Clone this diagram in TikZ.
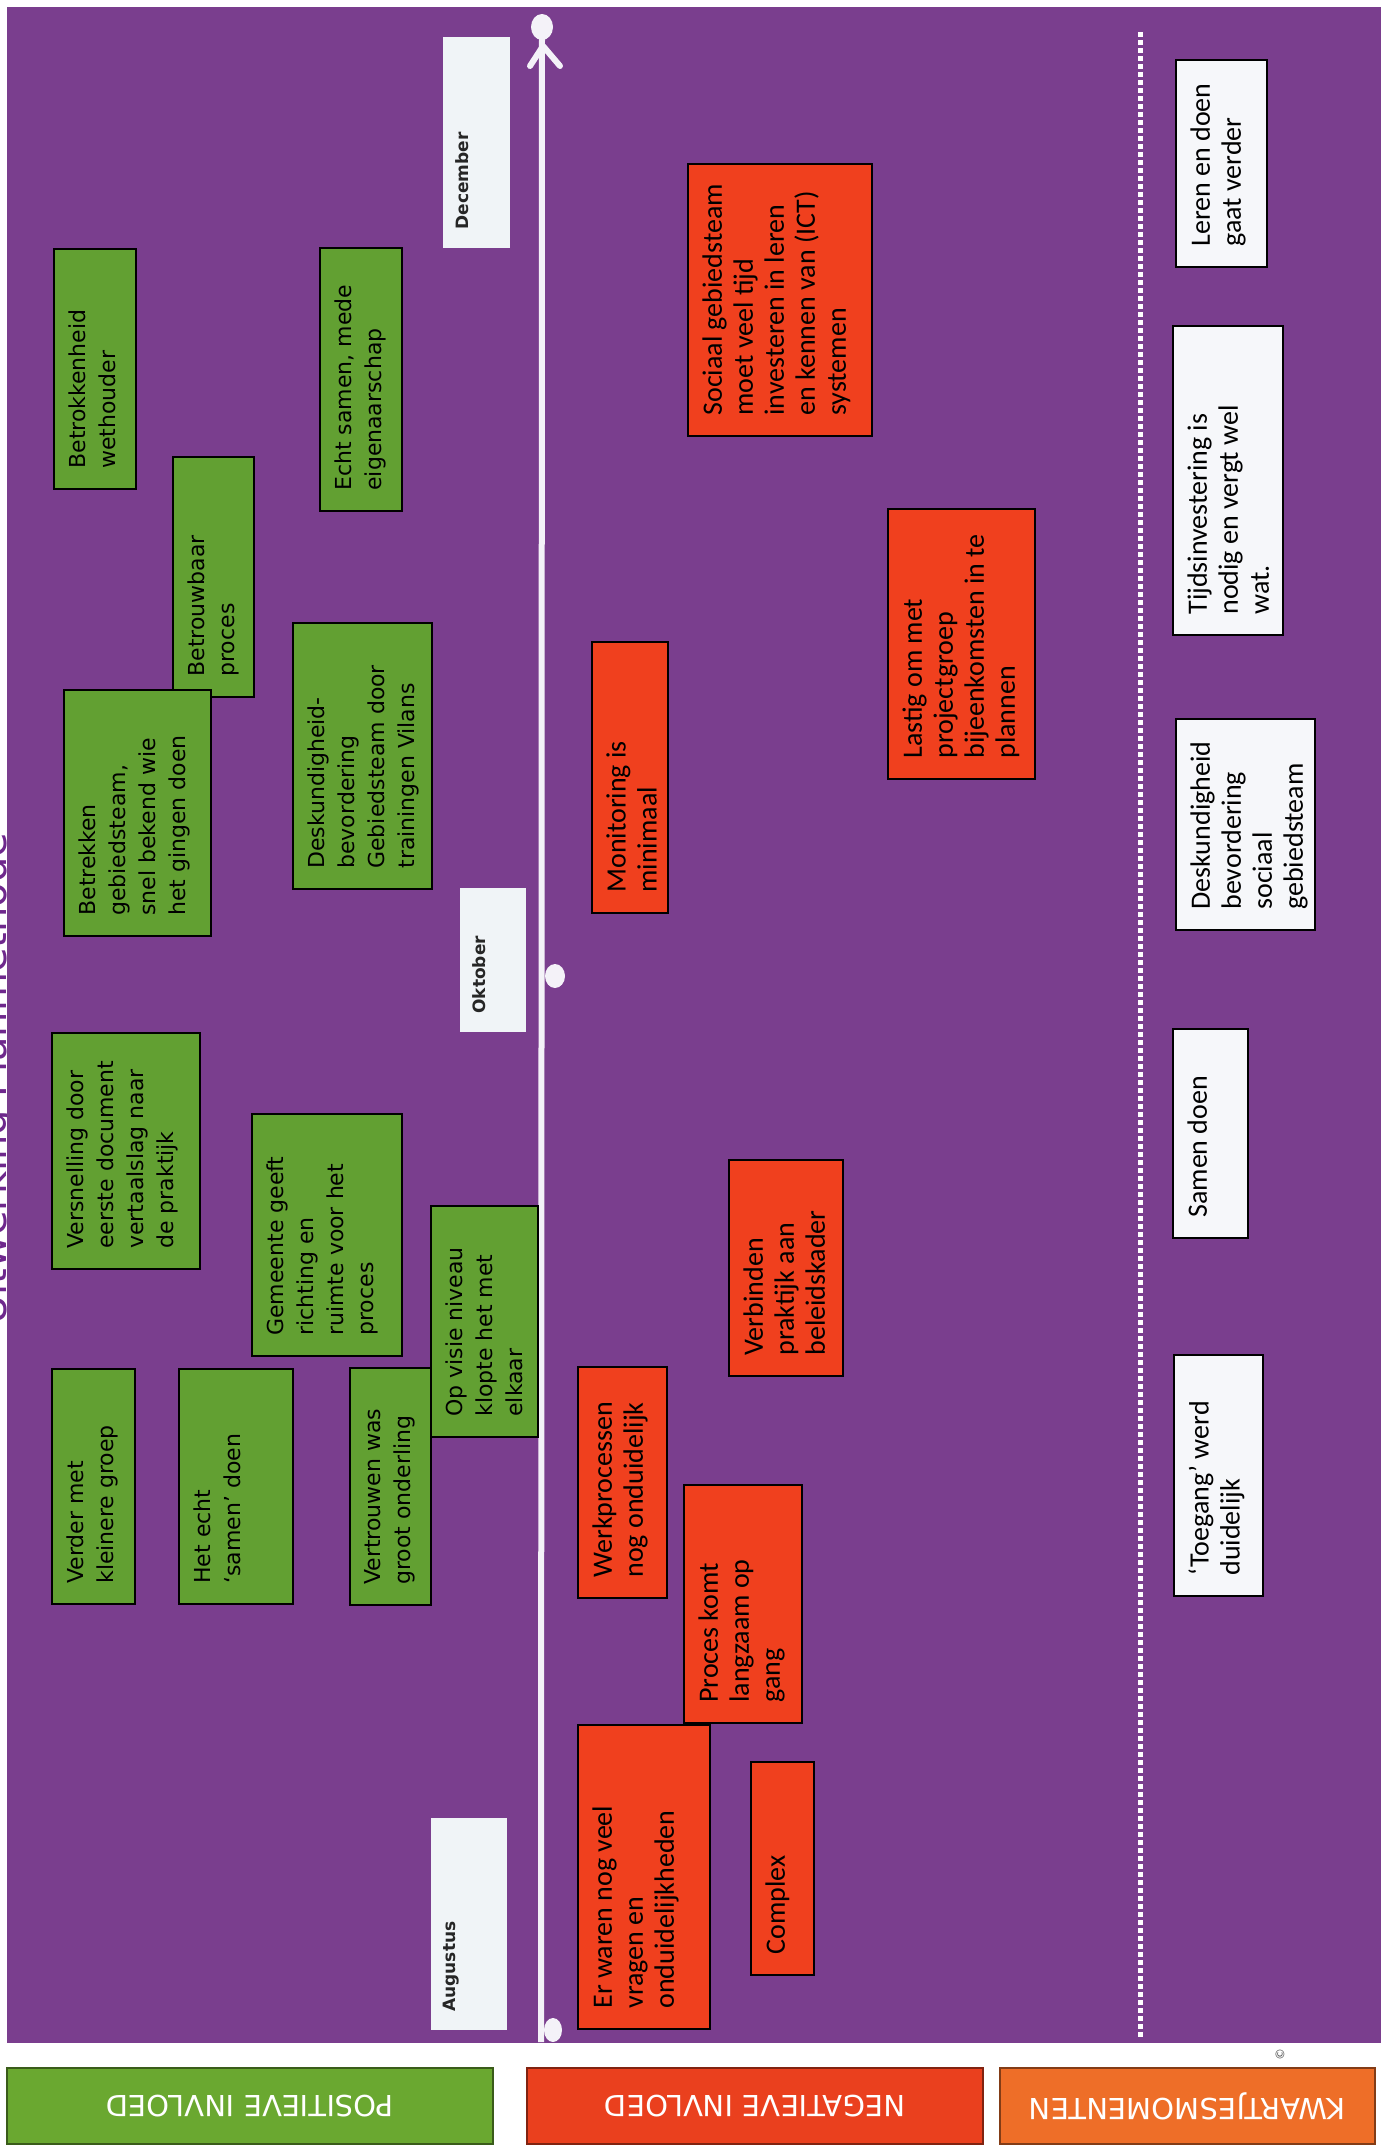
\documentclass[tikz,border=0pt]{standalone}
\usepackage{fontspec}
\setmainfont{Carlito}
\newfontfamily\gfont{DejaVu Sans}
\newfontfamily\cfont{Carlito}
\usetikzlibrary{shapes.geometric,calc}

\definecolor{bgpurple}{RGB}{122,62,142}
\definecolor{boxgreen}{RGB}{98,160,50}
\definecolor{boxred}{RGB}{240,64,30}
\definecolor{hdgreen}{RGB}{106,168,48}
\definecolor{hdred}{RGB}{234,64,30}
\definecolor{hdorange}{RGB}{238,110,40}
\definecolor{boxwhite}{RGB}{246,247,250}
\definecolor{monthwhite}{RGB}{240,244,247}
\definecolor{titlepurple}{RGB}{110,40,140}
\definecolor{tlwhite}{RGB}{244,242,248}

\newcommand\cardbox[7]{%
  \node[#2, anchor=north west, minimum width={(#5-#3)*0.5pt}, minimum height={(#6-#4)*0.5pt}] (#1) at (#3,#4) {};
  \node[#2 text, rotate=90, anchor=north west] (#1t) at ($(#1.south west)+(14,-20)$) {#7};
}
\newcommand\monthbox[6]{%
  \node[mbox, anchor=north west, minimum width={(#4-#2)*0.5pt}, minimum height={(#5-#3)*0.5pt}] (#1) at (#2,#3) {};
  \node[mbox text, rotate=90, anchor=north west] (#1t) at ($(#1.south west)+(12,-18)$) {#6};
}

\tikzset{
  gbox/.style={draw=black, line width=0.7pt, fill=boxgreen, inner sep=0, outer sep=0},
  gbox text/.style={font=\gfont\fontsize{11}{15}\selectfont, align=left, inner sep=0, text=black},
  rbox/.style={draw=black, line width=0.7pt, fill=boxred, inner sep=0, outer sep=0},
  rbox text/.style={font=\cfont\fontsize{14}{15.5}\selectfont, align=left, inner sep=0, text=black},
  wbox/.style={draw=black, line width=0.7pt, fill=boxwhite, inner sep=0, outer sep=0},
  wbox text/.style={font=\cfont\fontsize{14}{15.5}\selectfont, align=left, inner sep=0, text=black},
  mbox/.style={draw=none, fill=monthwhite, inner sep=0, outer sep=0},
  mbox text/.style={font=\gfont\bfseries\fontsize{8.5}{10}\selectfont, inner sep=0, text=black!85},
  hdbox/.style={inner sep=0, outer sep=0, text=white, font=\gfont\fontsize{14.5}{16}\selectfont},
  tlline/.style={draw=tlwhite, line width=3pt},
  tldot/.style={ellipse, fill=tlwhite, draw=none, inner sep=0},
}

\begin{document}
\begin{tikzpicture}[x=0.5pt,y=-0.5pt]
\useasboundingbox (0,0) rectangle (1388,2147);
\fill[white] (0,0) rectangle (1388,2147);

% partially visible title at the left edge
\node[rotate=90, anchor=base west, font=\gfont\fontsize{20}{22}\selectfont, text=titlepurple, inner sep=0] (title) at (6,1325) {Uitwerking Planmethode};

% purple background
\fill[bgpurple] (7,7) rectangle (1381,2043);

% dashed separator
\coordinate (dtop) at (1140,32);
\coordinate (dbot) at (1140,2037);
\draw[white, line width=2.5pt, dash pattern=on 2.5pt off 1.5pt] (dtop) -- (dbot);

% month labels
\monthbox{dec}{443}{37}{510}{248}{December}
\monthbox{okt}{460}{888}{526}{1032}{Oktober}
\monthbox{aug}{431}{1818}{507}{2030}{Augustus}

% timeline
\node[tldot, minimum width=11pt, minimum height=13pt] (topdot) at (542,27) {};
\coordinate (tlbottom) at (541,2042);
\draw[tlline] (tlbottom) -- (topdot.center);
\coordinate (vapex) at (543,46);
\coordinate (vleft) at (530,66);
\coordinate (vright) at (560,66);
\draw[tlline, line cap=round, line join=round] (vleft) -- (vapex) -- (vright);
\node[tldot, minimum width=10pt, minimum height=12pt] (middot) at (555,976) {};
\node[tldot, minimum width=9pt, minimum height=12pt] (botdot) at (553,2030) {};

% positive (green)
\cardbox{g1}{gbox}{54}{249}{136}{489}{Betrokkenheid\\wethouder}
\cardbox{g2}{gbox}{173}{457}{254}{697}{Betrouwbaar\\proces}
\cardbox{g3}{gbox}{64}{690}{211}{936}{Betrekken\\gebiedsteam,\\snel bekend wie\\het gingen doen}
\cardbox{g4}{gbox}{320}{248}{402}{511}{Echt samen, mede\\eigenaarschap}
\cardbox{g5}{gbox}{293}{623}{432}{889}{Deskundigheid-\\bevordering\\Gebiedsteam door\\trainingen Vilans}
\cardbox{g6}{gbox}{52}{1033}{200}{1269}{Versnelling door\\eerste document\\vertaalslag naar\\de praktijk}
\cardbox{g7}{gbox}{252}{1114}{402}{1356}{Gemeente geeft\\richting en\\ruimte voor het\\proces}
\cardbox{g8}{gbox}{431}{1206}{538}{1437}{Op visie niveau\\klopte het met\\elkaar}
\cardbox{g9}{gbox}{52}{1369}{135}{1604}{Verder met\\kleinere groep}
\cardbox{g10}{gbox}{179}{1369}{293}{1604}{Het echt\\‘samen’ doen}
\cardbox{g11}{gbox}{350}{1368}{431}{1605}{Vertrouwen was\\groot onderling}

% negative (red)
\cardbox{r1}{rbox}{688}{164}{872}{436}{Sociaal gebiedsteam\\moet veel tijd\\investeren in leren\\en kennen van (ICT)\\systemen}
\cardbox{r2}{rbox}{888}{509}{1035}{779}{Lastig om met\\projectgroep\\bijeenkomsten in te\\plannen}
\cardbox{r3}{rbox}{592}{642}{668}{913}{Monitoring is\\minimaal}
\cardbox{r4}{rbox}{729}{1160}{843}{1376}{Verbinden\\praktijk aan\\beleidskader}
\cardbox{r5}{rbox}{578}{1367}{667}{1598}{Werkprocessen\\nog onduidelijk}
\cardbox{r6}{rbox}{684}{1485}{802}{1723}{Proces komt\\langzaam op\\gang}
\cardbox{r7}{rbox}{578}{1725}{710}{2029}{Er waren nog veel\\vragen en\\onduidelijkheden}
\cardbox{r8}{rbox}{751}{1762}{814}{1975}{Complex}

% kwartjesmomenten (white)
\cardbox{w1}{wbox}{1176}{60}{1267}{267}{Leren en doen\\gaat verder}
\cardbox{w2}{wbox}{1173}{326}{1283}{635}{Tijdsinvestering is\\nodig en vergt wel\\wat.}
\cardbox{w3}{wbox}{1176}{719}{1315}{930}{Deskundigheid\\bevordering\\sociaal\\gebiedsteam}
\cardbox{w4}{wbox}{1173}{1029}{1248}{1238}{Samen doen}
\cardbox{w5}{wbox}{1174}{1355}{1263}{1596}{‘Toegang’ werd\\duidelijk}

% small mark
\node[rotate=90, font=\gfont\fontsize{6}{6}\selectfont, text=black!70, inner sep=0] (copymark) at (1280,2054) {©};

% headers (upside down)
\node[hdbox, fill=hdgreen, draw=hdgreen!55!black, line width=0.6pt, rotate=180, minimum width=243pt, minimum height=38pt] (hpos) at (250,2106) {POSITIEVE INVLOED};
\node[hdbox, fill=hdred, draw=hdred!55!black, line width=0.6pt, rotate=180, minimum width=228pt, minimum height=38pt] (hneg) at (755,2106) {NEGATIEVE INVLOED};
\node[hdbox, fill=hdorange, draw=hdorange!55!black, line width=0.6pt, rotate=180, minimum width=187.5pt, minimum height=38pt] (hkw) at (1187.5,2106) {KWARTJESMOMENTEN};
\end{tikzpicture}
\end{document}
